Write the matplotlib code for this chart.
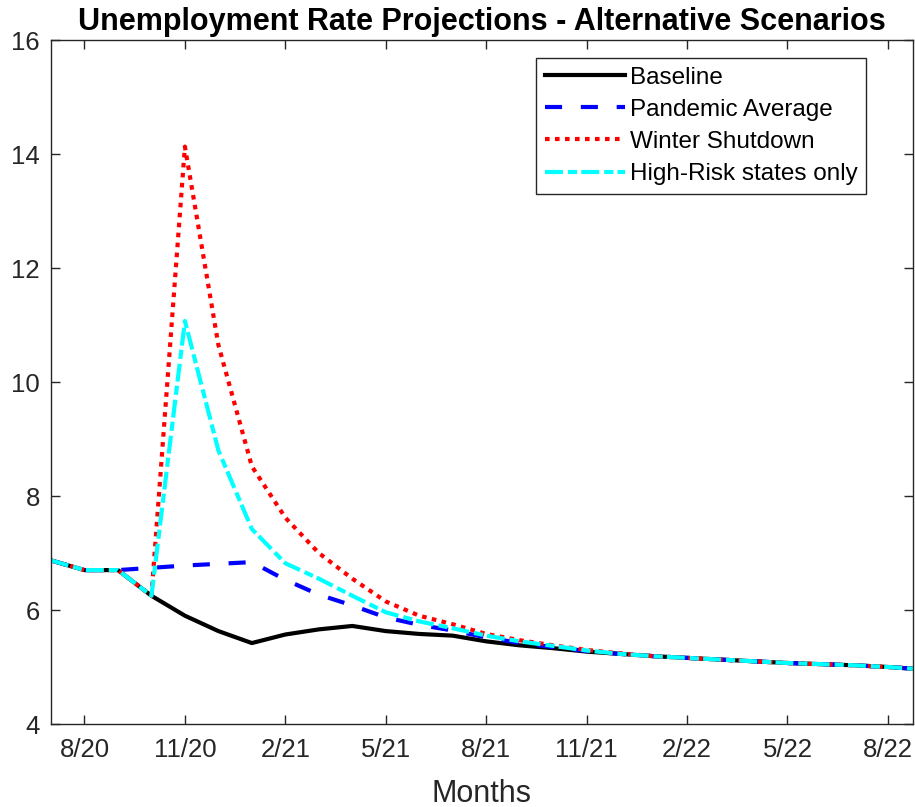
import matplotlib

matplotlib.use("Agg")
import matplotlib.pyplot as plt  # noqa: E402

# monthly values, 7/20 .. 9/22
months = list(range(27))
tick_pos = [1, 4, 7, 10, 13, 16, 19, 22, 25]
tick_labels = ["8/20", "11/20", "2/21", "5/21", "8/21", "11/21", "2/22", "5/22", "8/22"]

baseline = [6.87, 6.70, 6.70, 6.25, 5.90, 5.63, 5.42, 5.57, 5.66, 5.72, 5.63, 5.58,
            5.55, 5.45, 5.38, 5.33, 5.27, 5.23, 5.19, 5.16, 5.13, 5.10, 5.07, 5.05,
            5.03, 5.00, 4.96]
pandemic = [6.87, 6.70, 6.70, 6.74, 6.78, 6.81, 6.84, 6.53, 6.27, 6.08, 5.87, 5.74,
            5.64, 5.52, 5.42, 5.35, 5.28, 5.23, 5.19, 5.16, 5.13, 5.10, 5.07, 5.05,
            5.03, 5.00, 4.96]
winter = [6.87, 6.70, 6.70, 6.25, 14.13, 10.65, 8.52, 7.62, 7.00, 6.55, 6.15, 5.90,
          5.75, 5.58, 5.47, 5.38, 5.30, 5.24, 5.19, 5.16, 5.13, 5.10, 5.07, 5.05,
          5.03, 5.00, 4.96]
highrisk = [6.87, 6.70, 6.70, 6.25, 11.07, 8.80, 7.42, 6.82, 6.55, 6.25, 5.96, 5.80,
            5.68, 5.55, 5.45, 5.37, 5.29, 5.23, 5.19, 5.16, 5.13, 5.10, 5.07, 5.05,
            5.03, 5.00, 4.96]

plt.rcParams["font.family"] = ["Liberation Sans", "DejaVu Sans"]
fg = "#262626"

fig = plt.figure(figsize=(9.15, 8.07), dpi=100)
ax = fig.add_axes([51 / 915, 1 - 724 / 807, 862 / 915, 684 / 807])

lw = 3
ax.plot(months, baseline, color="black", lw=lw, label="Baseline")
ax.plot(months, pandemic, color="#0000ff", lw=lw, dashes=(4.1, 4.5), label="Pandemic Average")
ax.plot(months, winter, color="#ff0000", lw=lw, dashes=(1.1, 1.3), label="Winter Shutdown")
ax.plot(months, highrisk, color="#00ffff", lw=lw, dashes=(4.3, 1.2, 2.2, 1.0),
        label="High-Risk states only")

ax.set_xlim(0, 25.75)
ax.set_ylim(4, 16)
ax.set_xticks(tick_pos)
ax.set_xticklabels(tick_labels)
ax.set_yticks(range(4, 17, 2))
ax.tick_params(direction="in", length=6.5, width=1, colors=fg, labelsize=18.5,
               top=True, right=True, pad=8)
ax.tick_params(axis="x", pad=10)
for s in ax.spines.values():
    s.set_color(fg)
    s.set_linewidth(1)

ax.set_xlabel("Months", fontsize=22, color=fg, labelpad=12)
ax.set_title("Unemployment Rate Projections - Alternative Scenarios", fontsize=22,
             fontweight="bold", pad=7)

leg = ax.legend(loc="upper right", bbox_to_anchor=((866 - 51) / 862, (724 - 58) / 684),
                fontsize=17.5, handlelength=3.3, handletextpad=0.2, labelspacing=0.42,
                borderpad=0.35, borderaxespad=0, fancybox=False, framealpha=1)
leg.get_frame().set_edgecolor(fg)
leg.get_frame().set_linewidth(1)

fig.savefig("out.png", dpi=100)
